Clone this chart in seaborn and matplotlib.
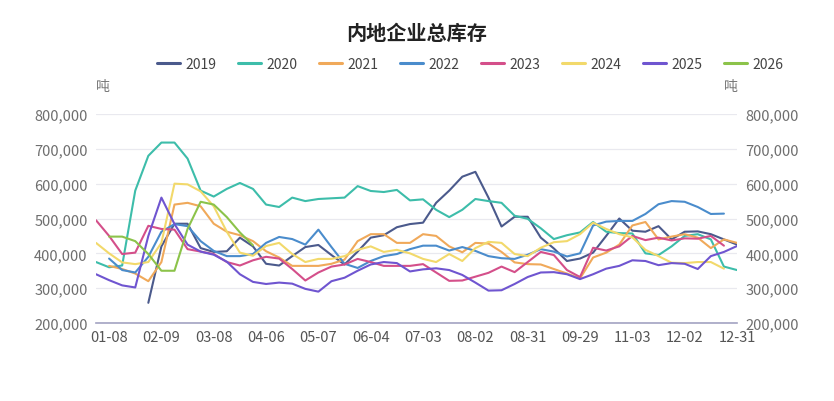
import numpy as np
import pandas as pd
import seaborn as sns
import matplotlib.pyplot as plt
from matplotlib.ticker import FuncFormatter
from matplotlib.lines import Line2D

# category axis (dates), every 4th one is labelled
dates = ["01-01", "01-08", "01-15", "01-22", "01-29", "02-09", "02-16", "02-23", "03-01", "03-08",
         "03-15", "03-22", "03-29", "04-06", "04-13", "04-20", "04-27", "05-07", "05-14", "05-21",
         "05-28", "06-04", "06-11", "06-18", "06-25", "07-03", "07-10", "07-17", "07-24", "08-02",
         "08-09", "08-16", "08-23", "08-31", "09-07", "09-14", "09-21", "09-29", "10-13", "10-20",
         "10-27", "11-03", "11-10", "11-17", "11-24", "12-02", "12-09", "12-16", "12-23", "12-31"]

N = None
# inventory, thousand tonnes
y2019 = [N, N, N, N, 258, 420, 485, 485, 415, 404,
         406, 445, 420, 370, 365, 392, 418, 424, 395, 368,
         405, 445, 452, 475, 484, 488, 545, 580, 620, 634,
         560, 477, 505, 505, 445, 414, 378, 385, 402, 450,
         500, 465, 462, 478, 440, 462, 463, 455, 440, 425]
y2020 = [375, 360, 365, 580, 680, 718, 718, 672, 580, 563,
         585, 602, 585, 540, 533, 560, 550, 556, 558, 560,
         593, 579, 576, 582, 552, 555, 525, 504, 525, 556,
         550, 545, 508, 499, 472, 441, 452, 460, 490, 462,
         458, 457, 400, 395, 420, 450, 455, 440, 362, 352]
y2021 = [N, 364, 355, 342, 320, 375, 540, 545, 535, 485,
         462, 452, 435, 406, 388, 364, 364, 364, 370, 382,
         435, 455, 455, 430, 430, 455, 450, 420, 403, 430,
         428, 404, 374, 369, 368, 355, 342, 328, 388, 402,
         425, 480, 490, 440, 448, 455, 445, 415, 440, 430]
y2022 = [N, 385, 352, 345, 390, 462, 484, 478, 435, 407,
         392, 392, 398, 430, 447, 441, 425, 468, 418, 370,
         358, 378, 392, 398, 412, 422, 422, 408, 418, 407,
         392, 386, 384, 396, 412, 405, 391, 400, 480, 491,
         493, 493, 513, 541, 550, 548, 533, 513, 514, N]
y2023 = [495, 450, 398, 402, 479, 470, 468, 412, 405, 398,
         375, 365, 380, 390, 385, 355, 322, 345, 362, 368,
         384, 375, 364, 364, 364, 369, 345, 321, 322, 333,
         344, 362, 346, 375, 404, 395, 352, 332, 416, 408,
         420, 450, 438, 445, 437, 443, 442, 450, 422, N]
y2024 = [430, 400, 374, 369, 375, 430, 600, 598, 578, 535,
         462, 402, 393, 421, 430, 398, 375, 384, 384, 392,
         410, 420, 404, 410, 400, 384, 375, 398, 378, 415,
         433, 430, 398, 392, 416, 432, 435, 455, 488, 470,
         455, 446, 410, 392, 373, 372, 375, 375, 356, N]
y2025 = [340, 323, 308, 302, 450, 560, 484, 425, 405, 396,
         376, 340, 318, 312, 316, 313, 298, 290, 320, 330,
         350, 368, 375, 372, 348, 354, 357, 352, 338, 316,
         293, 294, 312, 332, 345, 346, 340, 326, 340, 356,
         364, 380, 378, 366, 372, 370, 355, 392, 404, 421]
y2026 = [N, 448, 448, 435, 398, 350, 350, 470, 548, 540,
         504, 460, 423] + [N] * 37

years = ["2019", "2020", "2021", "2022", "2023", "2024", "2025", "2026"]
colors = ["#4b5a8c", "#3dbdaa", "#f0a95a", "#4a8ccc", "#d44f8a", "#f2d96b", "#6f55d0", "#8cc34a"]

series = [y2019, y2020, y2021, y2022, y2023, y2024, y2025, y2026]
frames = []
for yr, vals in zip(years, series):
    v = np.array([np.nan if x is None else x * 1000 for x in vals], dtype=float)
    frames.append(pd.DataFrame({"idx": np.arange(len(dates)), "value": v, "year": yr}))
df = pd.concat(frames).dropna()

sns.set_theme(style="white")
plt.rcParams["font.family"] = ["Noto Sans CJK SC", "DejaVu Sans"]

fig = plt.figure(figsize=(8.34, 4.02), dpi=100)
ax = fig.add_axes([96 / 834, 1 - 324 / 402, (737 - 96) / 834, (324 - 115) / 402])

sns.lineplot(data=df, x="idx", y="value", hue="year", palette=dict(zip(years, colors)),
             estimator=None, sort=True, linewidth=1.5, ax=ax, legend=False)
for ln in ax.lines:
    ln.set_solid_joinstyle("round")

ax.set_xlim(0, len(dates) - 1)
ax.set_ylim(200000, 800000)
ax.set_yticks(np.arange(200000, 800001, 100000))
ax.yaxis.set_major_formatter(FuncFormatter(lambda v, p: f"{int(v):,}"))
tick_idx = list(range(1, len(dates), 4))
ax.set_xticks(tick_idx)
ax.set_xticklabels([dates[i] for i in tick_idx])
ax.set_xlabel("")
ax.set_ylabel("")

ax.grid(axis="y", color="#e9e9ef", linewidth=0.9)
ax.grid(axis="x", visible=False)
for s in ["top", "left", "right"]:
    ax.spines[s].set_visible(False)
ax.spines["bottom"].set_color("#a3a3c2")
ax.spines["bottom"].set_linewidth(1.2)

ax.tick_params(axis="y", left=False, right=False, length=0, labelleft=True, labelright=True,
               labelsize=10.5, labelcolor="#6e6e6e", pad=6)
ax.tick_params(axis="x", bottom=False, length=0, labelsize=10.5, labelcolor="#555555", pad=5)

fig.text(0.5, 1 - 33 / 402, "内地企业总库存", ha="center", va="center",
         fontsize=14.5, fontweight="bold", color="#222222")
fig.text(103 / 834, 1 - 87 / 402, "吨", ha="center", va="center", fontsize=10, color="#777777")
fig.text(731 / 834, 1 - 87 / 402, "吨", ha="center", va="center", fontsize=10, color="#777777")

handles = [Line2D([0], [0], color=c, lw=2.2) for c in colors]
fig.legend(handles, years, loc="center", bbox_to_anchor=(470 / 834, 1 - 65 / 402), ncol=8,
           frameon=False, fontsize=10, handlelength=1.65, handletextpad=0.4,
           columnspacing=1.55, labelcolor="#444444")

fig.savefig("out.png", dpi=100)
